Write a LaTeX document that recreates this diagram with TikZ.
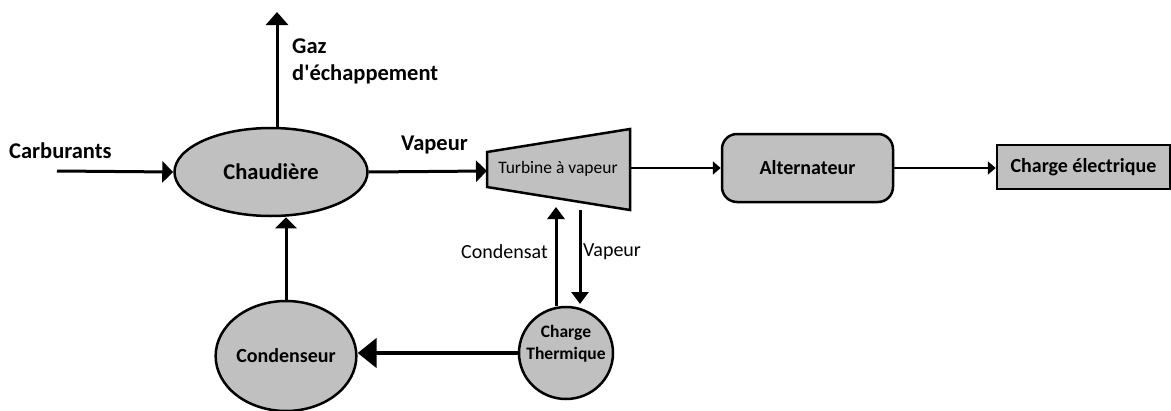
\documentclass[tikz,border=0pt]{standalone}
\usepackage{fontspec}
\setmainfont{Carlito}[Ligatures=TeXOff]
\usetikzlibrary{arrows.meta,shapes.geometric}
\definecolor{boxgray}{HTML}{C0C0C0}
\tikzset{
  x=1pt,y=-1pt,
  unit/.style={draw=black,fill=boxgray,line width=2.5pt,inner sep=0pt,font=\bfseries\fontsize{20}{24}\selectfont},
  flow/.style={line width=3pt,-{Triangle[length=11pt,width=21pt]}},
  thin flow/.style={line width=2pt,-{Triangle[length=8pt,width=13pt]}},
  big flow/.style={line width=4.5pt,-{Triangle[length=19pt,width=29pt]}},
  vert flow/.style={line width=3pt,-{Triangle[length=12pt,width=17pt]}},
  biglabel/.style={font=\bfseries\fontsize{22.5}{27}\selectfont,inner sep=0pt},
  smalllabel/.style={font=\fontsize{20}{24}\selectfont,text=black,inner sep=0pt},
}
\begin{document}
\begin{tikzpicture}
\useasboundingbox (0,0) rectangle (1171,410);
% nodes
\node[unit,ellipse,minimum width=193pt,minimum height=88pt,font=\bfseries\fontsize{22.5}{27}\selectfont] (chaud) at (271,172) {Chaudière};
\draw[unit] (487,152) coordinate (t1) -- (630,129) coordinate (t2) -- (630,210) coordinate (t3) -- (487,187) coordinate (t4) -- cycle;
\node[font=\fontsize{17.5}{20}\selectfont,inner sep=0pt] (turb) at (558,169) {Turbine à vapeur};
\coordinate (tin) at (487,171);
\coordinate (tout) at (630,168);
\node[unit,rectangle,rounded corners=15pt,minimum width=171pt,minimum height=68pt] (alt) at (807.5,168) {Alternateur};
\node[unit,rectangle,minimum width=173pt,minimum height=44pt] (charge) at (1083.5,167) {Charge électrique};
\node[unit,ellipse,minimum width=122pt,minimum height=110pt] (cond) at (286,356) {Condenseur};
\node[unit,ellipse,minimum width=94pt,minimum height=92pt] (ct) at (566,353) {};
\node[font=\bfseries\fontsize{17.5}{22}\selectfont,align=center,inner sep=0pt] (ctlabel) at (566,344) {Charge\\Thermique};
% free ends
\coordinate (fuel) at (57,171);
\coordinate (gaz) at (277,12);
\coordinate (cin) at (556,207);
\coordinate (cstart) at (556,306);
\coordinate (vstart) at (580,210);
\coordinate (vend) at (580,304);
% connectors
\draw[flow] (fuel) -- (chaud.west);
\draw[flow,-{Triangle[length=13pt,width=22pt]}] (chaud.north -| gaz) -- (gaz);
\draw[flow] (chaud.east) -- (tin);
\draw[thin flow] (tout) -- (alt.west);
\draw[thin flow] (alt.east) -- (alt.east -| charge.west);
\draw[flow] (cond.north) -- (chaud.south -| cond.north);
\draw[big flow] (ct.west) -- (cond.east |- ct.west);
\draw[vert flow] (cstart) -- (cin);
\draw[vert flow] (vstart) -- (vend);
% labels
\node[biglabel,anchor=west] (lcarb) at (9,151) {Carburants};
\node[biglabel,anchor=west,align=left] (lgaz) at (292,61) {Gaz\\d'échappement};
\node[biglabel,anchor=west] (lvap) at (401,145) {Vapeur};
\node[smalllabel,anchor=east] (lcondensat) at (548,252) {Condensat};
\node[smalllabel,anchor=west] (lvap2) at (583,252) {Vapeur};
\end{tikzpicture}
\end{document}
